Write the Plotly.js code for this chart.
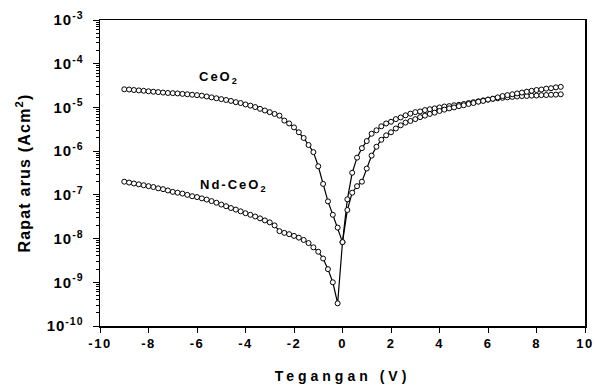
<!DOCTYPE html>
<html>
<head>
<meta charset="utf-8">
<script src="https://cdn.plot.ly/plotly-3.0.1.min.js"></script>
<style>
  html, body { margin: 0; padding: 0; background: #fff; }
  #chart { width: 597px; height: 387px; }
  .xtitle { letter-spacing: 4px; }
  .ytitle { letter-spacing: 1.2px; }
  .annotation-text { letter-spacing: 2px; }
  .xtick text { letter-spacing: 1.5px; }
  .ytick text { letter-spacing: 1px; }
</style>
</head>
<body>
<div id="chart"></div>
<script>
// Voltage (V)
const voltage = [
  -9.0, -8.8, -8.6, -8.4, -8.2, -8.0, -7.8, -7.6, -7.4, -7.2,
  -7.0, -6.8, -6.6, -6.4, -6.2, -6.0, -5.8, -5.6, -5.4, -5.2,
  -5.0, -4.8, -4.6, -4.4, -4.2, -4.0, -3.8, -3.6, -3.4, -3.2,
  -3.0, -2.8, -2.6, -2.4, -2.2, -2.0, -1.8, -1.6, -1.4, -1.2,
  -1.0, -0.8, -0.6, -0.4, -0.2, 0.0, 0.2, 0.4, 0.6, 0.8,
  1.0, 1.2, 1.4, 1.6, 1.8, 2.0, 2.2, 2.4, 2.6, 2.8,
  3.0, 3.2, 3.4, 3.6, 3.8, 4.0, 4.2, 4.4, 4.6, 4.8,
  5.0, 5.2, 5.4, 5.6, 5.8, 6.0, 6.2, 6.4, 6.6, 6.8,
  7.0, 7.2, 7.4, 7.6, 7.8, 8.0, 8.2, 8.4, 8.6, 8.8, 9.0
];

// Current density CeO2 (A/cm^2)
const ceo2 = [
  2.6e-5, 2.57e-5, 2.5e-5, 2.45e-5, 2.4e-5, 2.34e-5, 2.29e-5, 2.24e-5, 2.19e-5, 2.14e-5,
  2.12e-5, 2.09e-5, 2.04e-5, 2.0e-5, 1.95e-5, 1.91e-5, 1.86e-5, 1.78e-5, 1.70e-5, 1.62e-5,
  1.55e-5, 1.48e-5, 1.41e-5, 1.32e-5, 1.26e-5, 1.17e-5, 1.10e-5, 1.02e-5, 9.3e-6, 8.5e-6,
  7.8e-6, 7.1e-6, 6.5e-6, 5.0e-6, 4.3e-6, 3.5e-6, 2.7e-6, 2.0e-6, 1.38e-6, 9.5e-7,
  4.5e-7, 1.78e-7, 7.1e-8, 3.5e-8, 1.78e-8, 8.3e-9, 7.9e-8, 3.2e-7, 7.1e-7, 1.17e-6,
  1.70e-6, 2.5e-6, 3.0e-6, 3.7e-6, 4.3e-6, 4.7e-6, 5.4e-6, 5.9e-6, 6.6e-6, 7.2e-6,
  7.8e-6, 8.1e-6, 8.7e-6, 9.1e-6, 9.5e-6, 1.0e-5, 1.05e-5, 1.07e-5, 1.12e-5, 1.15e-5,
  1.2e-5, 1.26e-5, 1.32e-5, 1.38e-5, 1.45e-5, 1.51e-5, 1.58e-5, 1.62e-5, 1.66e-5, 1.70e-5,
  1.74e-5, 1.78e-5, 1.82e-5, 1.83e-5, 1.86e-5, 1.87e-5, 1.91e-5, 1.92e-5, 1.95e-5, 1.96e-5, 2.0e-5
];

// Current density Nd-CeO2 (A/cm^2)
const ndceo2 = [
  2.0e-7, 1.91e-7, 1.82e-7, 1.74e-7, 1.66e-7, 1.58e-7, 1.51e-7, 1.41e-7, 1.35e-7, 1.26e-7,
  1.17e-7, 1.12e-7, 1.07e-7, 1.0e-7, 9.3e-8, 8.9e-8, 8.3e-8, 7.8e-8, 7.2e-8, 6.6e-8,
  6.0e-8, 5.5e-8, 5.0e-8, 4.6e-8, 4.2e-8, 3.8e-8, 3.5e-8, 3.2e-8, 2.9e-8, 2.6e-8,
  2.35e-8, 2.0e-8, 1.48e-8, 1.35e-8, 1.26e-8, 1.15e-8, 1.05e-8, 9.3e-9, 7.9e-9, 6.3e-9,
  5.0e-9, 3.5e-9, 2.0e-9, 1.0e-9, 3.3e-10, 8.3e-9, 4.5e-8, 1.12e-7, 1.58e-7, 2.0e-7,
  4.0e-7, 7.9e-7, 1.26e-6, 1.82e-6, 2.3e-6, 2.7e-6, 3.3e-6, 3.9e-6, 4.5e-6, 4.9e-6,
  5.4e-6, 6.0e-6, 6.5e-6, 7.1e-6, 7.6e-6, 8.3e-6, 8.9e-6, 9.5e-6, 1.0e-5, 1.07e-5,
  1.12e-5, 1.20e-5, 1.26e-5, 1.35e-5, 1.41e-5, 1.51e-5, 1.58e-5, 1.70e-5, 1.82e-5, 1.91e-5,
  2.0e-5, 2.09e-5, 2.19e-5, 2.29e-5, 2.4e-5, 2.5e-5, 2.57e-5, 2.69e-5, 2.75e-5, 2.88e-5, 2.95e-5
];

const xTickVals = [-10, -8, -6, -4, -2, 0, 2, 4, 6, 8, 10];
const xTickText = ['-10', '-8', '-6', '-4', '-2', '0', '2', '4', '6', '8', '10'];
const yTickVals = [1e-10, 1e-9, 1e-8, 1e-7, 1e-6, 1e-5, 1e-4, 1e-3];
const yTickText = ['10<sup>-10</sup>', '10<sup>-9</sup>', '10<sup>-8</sup>', '10<sup>-7</sup>',
                   '10<sup>-6</sup>', '10<sup>-5</sup>', '10<sup>-4</sup>', '10<sup>-3</sup>'];
const yMinorMantissas = [2, 3, 4, 5, 6, 7, 8, 9];
const seriesLabels = ['CeO<sub>2</sub>', 'Nd-CeO<sub>2</sub>'];

const FONT = 'Liberation Sans, Arial, sans-serif';

// minor tick positions (axis decoration only)
const yMinorVals = [];
yTickVals.slice(0, -1).forEach(d => yMinorMantissas.forEach(m => yMinorVals.push(m * d)));

function series(y, name) {
  return {
    x: voltage, y: y, name: name, type: 'scatter', mode: 'lines+markers',
    line: { color: '#000', width: 1.2 },
    marker: { symbol: 'circle', size: 5, color: '#fff', line: { color: '#000', width: 1 } },
    showlegend: false, hoverinfo: 'skip'
  };
}

const data = [series(ceo2, 'CeO2'), series(ndceo2, 'Nd-CeO2')];

const layout = {
  width: 597, height: 387,
  margin: { l: 100, r: 12, t: 20, b: 61 },
  paper_bgcolor: '#fff', plot_bgcolor: '#fff',
  font: { family: FONT, color: '#000', size: 12 },
  showlegend: false,
  xaxis: {
    range: [-10, 10],
    tickvals: xTickVals, ticktext: xTickText,
    ticks: 'outside', ticklen: 5, tickwidth: 1, tickcolor: '#000',
    showline: true, linecolor: '#000', linewidth: 1.5, mirror: true,
    showgrid: false, zeroline: false,
    tickfont: { family: FONT, size: 13, weight: 'bold' },
    title: { text: 'Tegangan (V)', font: { family: FONT, size: 14, weight: 'bold' }, standoff: 21 }
  },
  yaxis: {
    type: 'log',
    range: [-10, -3],
    tickvals: yTickVals, ticktext: yTickText,
    ticks: 'outside', ticklen: 6, tickwidth: 1, tickcolor: '#000',
    ticklabelstandoff: 6,
    showline: true, linecolor: '#000', linewidth: 1.5, mirror: true,
    showgrid: false, zeroline: false,
    tickfont: { family: FONT, size: 15, weight: 'bold' },
    title: { text: 'Rapat arus (Acm<sup>2</sup>)', font: { family: FONT, size: 16, weight: 'bold' }, standoff: 12 }
  },
  yaxis2: {
    type: 'log', range: [-10, -3], overlaying: 'y', side: 'left',
    tickvals: yMinorVals, showticklabels: false,
    ticks: 'outside', ticklen: 3.5, tickwidth: 1, tickcolor: '#000',
    showline: false, showgrid: false, zeroline: false
  },
  annotations: [
    { x: -5.1, y: -4.31, xref: 'x', yref: 'y', text: seriesLabels[0], showarrow: false,
      font: { family: FONT, size: 13, weight: 'bold' } },
    { x: -4.5, y: -6.78, xref: 'x', yref: 'y', text: seriesLabels[1], showarrow: false,
      font: { family: FONT, size: 13, weight: 'bold' } }
  ]
};

// invisible helper trace so the minor-tick axis is drawn
data.push({ x: [0], y: [1e-6], yaxis: 'y2', mode: 'markers', marker: { opacity: 0 },
            showlegend: false, hoverinfo: 'skip' });

Plotly.newPlot('chart', data, layout, { staticPlot: true, displayModeBar: false });
</script>
</body>
</html>
